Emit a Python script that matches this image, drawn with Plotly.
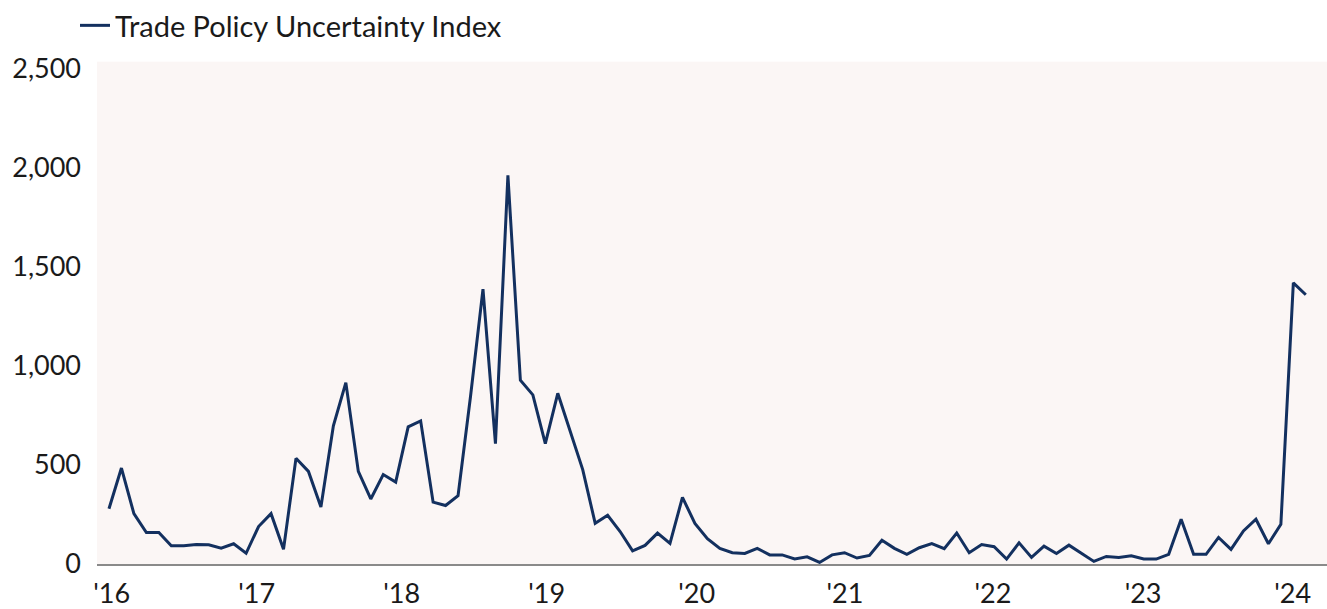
import plotly.graph_objects as go

# Monthly Trade Policy Uncertainty Index
series_name = "Trade Policy Uncertainty Index"
values = [
    279, 484, 254, 159, 159, 92, 92, 98, 97, 80, 102, 54,
    189, 254, 74, 533, 467, 287, 697, 915, 467, 328, 451, 413,
    692, 722, 312, 295, 344, 845, 1386, 607, 1960, 927, 853, 607,
    861, 664, 476, 205, 246, 164, 66, 94, 156, 104, 336, 205,
    128, 79, 57, 53, 79, 46, 46, 25, 36, 8, 46, 57,
    30, 43, 120, 79, 49, 82, 103, 77, 156, 57, 98, 87,
    25, 107, 33, 90, 53, 95, 54, 13, 38, 33, 41, 25,
    25, 49, 226, 49, 49, 134, 74, 167, 226, 102, 200, 1418,
    1358,
]
x_labels = ["'16", "'17", "'18", "'19", "'20", "'21", "'22", "'23", "'24"]
y_ticks = [0, 500, 1000, 1500, 2000, 2500]
y_tick_text = ["0", "500", "1,000", "1,500", "2,000", "2,500"]

# layout helpers (positions of year labels along the month index axis)
tick_pos = [0.22, 11.85, 23.48, 35.11, 47.14, 59.04, 70.9, 82.95, 94.95]

x = list(range(len(values)))
FONT = "Lato"
NAVY = "#13305F"
TXT = "#1a1a1a"

fig = go.Figure()
fig.add_trace(go.Scatter(
    x=x, y=values, mode="lines", name=series_name,
    line=dict(color=NAVY, width=3),
))

fig.update_layout(
    width=1327, height=609,
    margin=dict(l=97, r=0, t=55, b=39),
    paper_bgcolor="white",
    plot_bgcolor="#FBF6F5",
    font=dict(family=FONT, size=27, color=TXT),
    showlegend=True,
    legend=dict(
        x=0.0565, y=1.0, xref="container", yref="container",
        xanchor="left", yanchor="top",
        orientation="h",
        font=dict(family=FONT, size=29, color=TXT),
        bgcolor="rgba(0,0,0,0)",
        itemwidth=30,
    ),
    xaxis=dict(
        range=[-0.96, 97.7],
        tickmode="array", tickvals=tick_pos, ticktext=x_labels,
        showgrid=False, zeroline=False,
        showline=True, linecolor="#8a8a8a", linewidth=1.6,
        ticks="", tickfont=dict(family=FONT, size=27, color=TXT),
        ticklabelstandoff=5,
        fixedrange=True,
    ),
    yaxis=dict(
        range=[0, 2534],
        tickmode="array", tickvals=y_ticks, ticktext=y_tick_text,
        showgrid=False, zeroline=False, showline=False,
        ticks="", tickfont=dict(family=FONT, size=27, color=TXT),
        ticklabelstandoff=15,
        fixedrange=True,
    ),
)

fig.write_html(
    "out.html",
    config={"displayModeBar": False},
    post_script="document.body.style.margin='0';document.body.style.overflow='hidden';",
)
